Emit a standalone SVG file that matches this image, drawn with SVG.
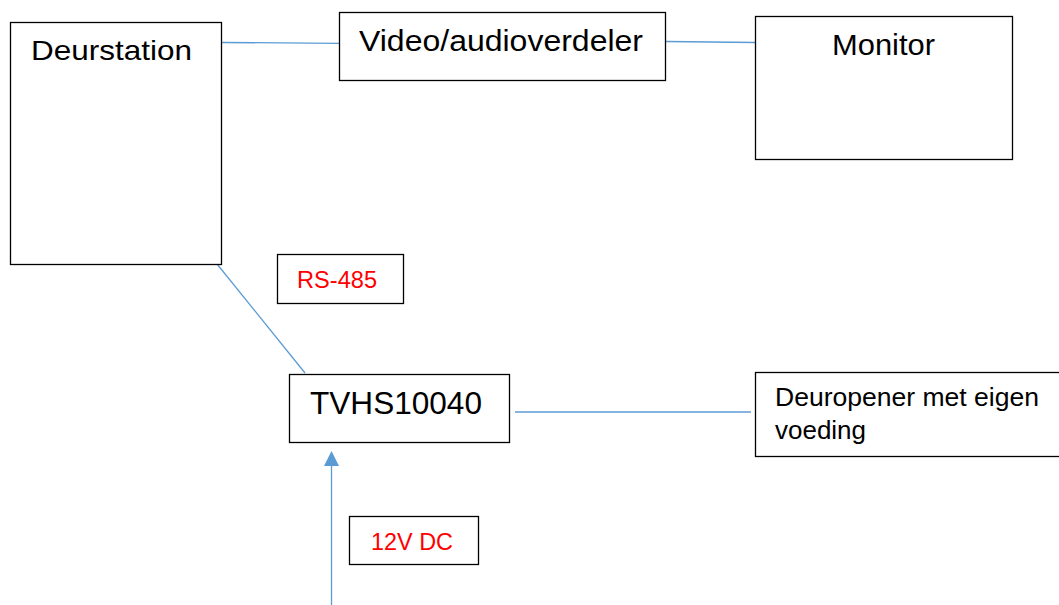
<svg xmlns="http://www.w3.org/2000/svg" width="1059" height="605" viewBox="0 0 1059 605">
<style>
.box{fill:#fff;stroke:#000;stroke-width:1.3}
.t{font-family:"Liberation Sans",Arial,sans-serif;fill:#000}
.r{font-family:"Liberation Sans",Arial,sans-serif;fill:#ff0000}
.c{stroke:#5b9bd5;stroke-width:1.3;fill:none}
</style>
<defs>
<marker id="ah" markerWidth="16" markerHeight="16" refX="0" refY="0" viewBox="-8 -8 16 16" orient="auto" markerUnits="userSpaceOnUse">
<path d="M8,0 L-7,-7.5 L-7,7.5 Z" fill="#5b9bd5"/>
</marker>
</defs>
<rect width="1059" height="605" fill="#fff"/>
<g id="connectors">
<line class="c" x1="222" y1="42.5" x2="339" y2="43.3"/>
<line class="c" x1="666" y1="41.5" x2="755" y2="42.5"/>
<line class="c" x1="217" y1="264" x2="305" y2="373"/>
<line class="c" x1="515" y1="412" x2="751" y2="412"/>
<line class="c" x1="331.5" y1="605" x2="331.5" y2="459" stroke-width="1.5" marker-end="url(#ah)"/>
</g>
<g id="deurstation">
<rect class="box" x="10.5" y="22.5" width="211" height="242"/>
<text class="t" x="31" y="60" font-size="28" textLength="161" lengthAdjust="spacingAndGlyphs">Deurstation</text>
</g>
<g id="verdeler">
<rect class="box" x="339.5" y="12.5" width="326" height="68"/>
<text class="t" x="359" y="51" font-size="30" textLength="284" lengthAdjust="spacingAndGlyphs">Video/audioverdeler</text>
</g>
<g id="monitor">
<rect class="box" x="755.5" y="16.5" width="257" height="143"/>
<text class="t" x="832" y="55" font-size="29" textLength="103" lengthAdjust="spacingAndGlyphs">Monitor</text>
</g>
<g id="rs485">
<rect class="box" x="277.5" y="254.5" width="126" height="49"/>
<text class="r" x="297" y="288" font-size="23" textLength="80" lengthAdjust="spacingAndGlyphs">RS-485</text>
</g>
<g id="tvhs">
<rect class="box" x="289.5" y="374.5" width="220" height="68"/>
<text class="t" x="310" y="414" font-size="31" textLength="172" lengthAdjust="spacingAndGlyphs">TVHS10040</text>
</g>
<g id="deuropener">
<rect class="box" x="755.5" y="372.5" width="310" height="84"/>
<text class="t" x="775" y="406" font-size="25" textLength="264" lengthAdjust="spacingAndGlyphs">Deuropener met eigen</text>
<text class="t" x="775" y="439" font-size="25" textLength="91" lengthAdjust="spacingAndGlyphs">voeding</text>
</g>
<g id="dc12">
<rect class="box" x="349.5" y="516.5" width="129" height="48"/>
<text class="r" x="371" y="550" font-size="23" textLength="82" lengthAdjust="spacingAndGlyphs">12V DC</text>
</g>
</svg>
